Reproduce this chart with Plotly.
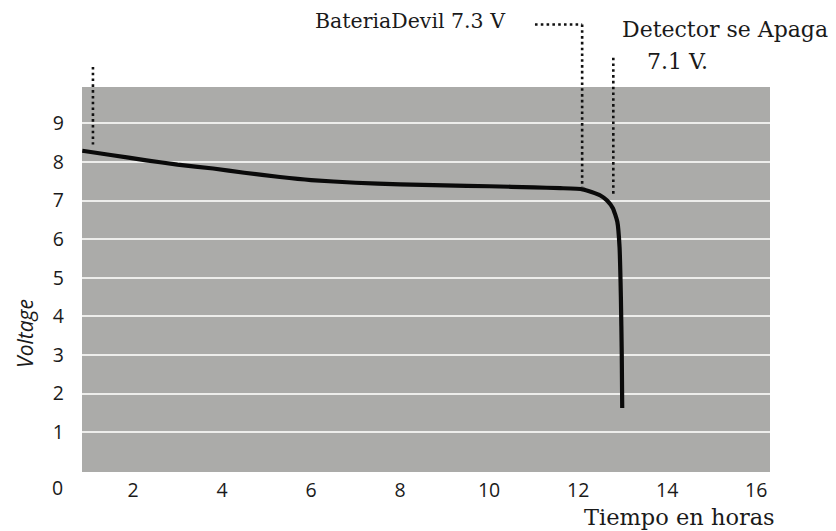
import plotly.graph_objects as go

# Discharge curve of the battery (hours, volts)
hours = [0.86, 1.5, 2.3, 3.0, 3.8, 4.5, 5.3, 6.0, 7.0, 8.0, 9.0, 10.0, 11.0,
         11.6, 12.1, 12.3, 12.5, 12.65, 12.78, 12.88, 12.93, 12.96, 12.98, 12.99]
volts = [8.29, 8.18, 8.04, 7.93, 7.83, 7.72, 7.61, 7.53, 7.46, 7.42, 7.39, 7.37, 7.34,
         7.32, 7.29, 7.22, 7.13, 7.0, 6.8, 6.45, 5.8, 4.5, 3.0, 1.63]

x_ticks = [2, 4, 6, 8, 10, 12, 14, 16]
y_ticks = [1, 2, 3, 4, 5, 6, 7, 8, 9]

# Marker positions on the curve (hours, volts)
start_mark = (1.1, 8.45)
bateria_mark = (12.09, 7.3)
detector_mark = (12.79, 7.1)

X_RANGE = [0.854, 16.31]
Y_RANGE = [-0.03, 9.94]


def vy(v):
    """Volts -> paper y, so leader lines may extend above the plot."""
    return (v - Y_RANGE[0]) / (Y_RANGE[1] - Y_RANGE[0])


fig = go.Figure()
fig.add_trace(go.Scatter(
    x=hours, y=volts, mode="lines",
    line=dict(color="#0a0a0a", width=4.2, shape="spline", smoothing=0.5),
    hoverinfo="skip", showlegend=False,
))

dot = dict(color="#111111", width=2.6, dash="2.6px,3.2px")
shapes = [
    dict(type="line", xref="x", yref="paper", x0=start_mark[0], x1=start_mark[0],
         y0=vy(10.46), y1=vy(start_mark[1]), line=dot),
    dict(type="line", xref="x", yref="paper", x0=11.03, x1=bateria_mark[0],
         y0=vy(11.56), y1=vy(11.56), line=dot),
    dict(type="line", xref="x", yref="paper", x0=bateria_mark[0], x1=bateria_mark[0],
         y0=vy(11.56), y1=vy(bateria_mark[1] + 0.05), line=dot),
    dict(type="line", xref="x", yref="paper", x0=detector_mark[0], x1=detector_mark[0],
         y0=vy(10.7), y1=vy(detector_mark[1] + 0.05), line=dot),
]

serif = "DejaVu Serif"
sans = "Open Sans"
ink = "#1a1a1a"
annotations = [
    dict(text="BateriaDevil 7.3 V", x=10.42, y=vy(11.64), xref="x", yref="paper",
         xanchor="right", yanchor="middle", showarrow=False,
         font=dict(family=serif, size=20.5, color=ink)),
    dict(text="Detector se Apaga", x=12.95, y=vy(11.42), xref="x", yref="paper",
         xanchor="left", yanchor="middle", showarrow=False,
         font=dict(family=serif, size=22, color=ink)),
    dict(text="7.1 V.", x=13.5, y=vy(10.6), xref="x", yref="paper",
         xanchor="left", yanchor="middle", showarrow=False,
         font=dict(family=serif, size=22, color=ink)),
    dict(text="Tiempo en horas", x=1.01, y=-0.117, xref="paper", yref="paper",
         xanchor="right", yanchor="middle", showarrow=False,
         font=dict(family=serif, size=22.5, color=ink)),
    dict(text="<i>Voltage</i>", x=-0.083, y=0.361, xref="paper", yref="paper",
         xanchor="center", yanchor="middle", showarrow=False, textangle=-90,
         font=dict(family=sans, size=21, color=ink)),
    dict(text="0", x=-0.036, y=-0.039, xref="paper", yref="paper",
         xanchor="center", yanchor="middle", showarrow=False,
         font=dict(family=sans, size=19.5, color=ink)),
]

fig.update_layout(
    width=836, height=531,
    margin=dict(l=82, r=66, t=87, b=59),
    paper_bgcolor="white",
    plot_bgcolor="#ababa9",
    shapes=shapes,
    annotations=annotations,
    xaxis=dict(range=X_RANGE, tickvals=x_ticks, ticktext=[str(t) for t in x_ticks],
               showgrid=False, zeroline=False, showline=False, ticks="",
               ticklabelstandoff=4,
               tickfont=dict(family=sans, size=19.5, color=ink)),
    yaxis=dict(range=Y_RANGE, tickvals=y_ticks, ticktext=[str(t) for t in y_ticks],
               showgrid=True, gridcolor="#ededeb", gridwidth=1.6,
               zeroline=False, showline=False, ticks="",
               ticklabelstandoff=17,
               tickfont=dict(family=sans, size=19.5, color=ink)),
)

fig.write_html("out.html")
